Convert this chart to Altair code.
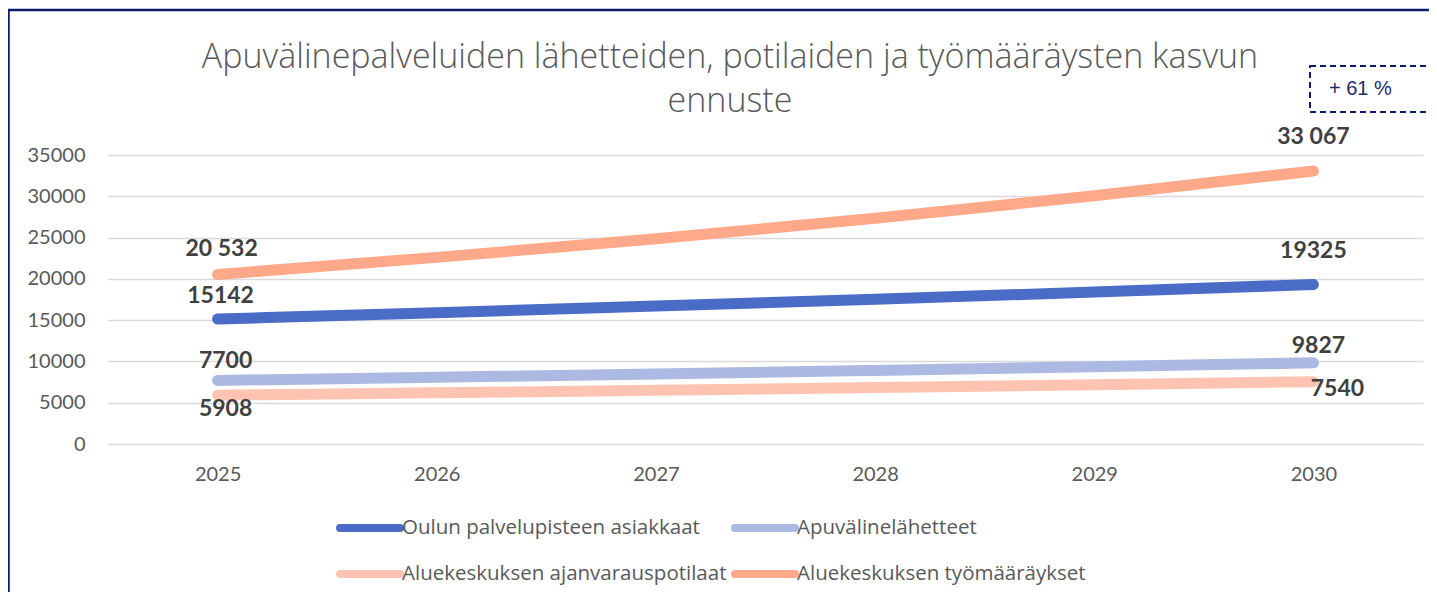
import altair as alt
import pandas as pd

# ---------------- data ----------------
years = ["2025", "2026", "2027", "2028", "2029", "2030"]
series_names = [
    "Oulun palvelupisteen asiakkaat",
    "Apuvälinelähetteet",
    "Aluekeskuksen ajanvarauspotilaat",
    "Aluekeskuksen työmääräykset",
]
oulu = [15142, 15900, 16700, 17530, 18400, 19325]
lahetteet = [7700, 8085, 8490, 8910, 9360, 9827]
ajanvaraus = [5908, 6200, 6510, 6840, 7180, 7540]
tyomaaraykset = [20532, 22600, 24850, 27330, 30060, 33067]
series_values = [oulu, lahetteet, ajanvaraus, tyomaaraykset]

first_labels = ["15142", "7700", "5908", "20 532"]
last_labels = ["19325", "9827", "7540", "33 067"]

title_lines = ["Apuvälinepalveluiden lähetteiden, potilaiden ja työmääräysten kasvun", "ennuste"]
growth_note = "+ 61 %"

y_ticks = [0, 5000, 10000, 15000, 20000, 25000, 30000, 35000]

# ---------------- styles ----------------
colors = ["#4A6BC6", "#ABB9E3", "#FFC4B1", "#FFA98A"]
FONT = "Lato"
GREY = "#595959"
LABEL = "#404040"
NAVY = "#0C1C6B"

W, H = 1315, 289
PAD_L, PAD_T = 100, 147

rows = []
for name, vals in zip(series_names, series_values):
    for y, v in zip(years, vals):
        rows.append({"series": name, "year": y, "value": v})
df = pd.DataFrame(rows)

xs = alt.Scale(domain=years, type="point", padding=0.5)
ys = alt.Scale(domain=[0, 35000], nice=False)
cs = alt.Scale(domain=series_names, range=colors)

x_axis = alt.Axis(title=None, labelAngle=0, domain=False, ticks=False, grid=False,
                  labelFontSize=20, labelColor=GREY, labelFont=FONT, labelPadding=20)
y_axis = alt.Axis(title=None, values=y_ticks, format="d", domain=False, ticks=False,
                  labelFontSize=20, labelColor=GREY, labelFont=FONT, labelPadding=23,
                  gridColor="#D9D9D9", gridWidth=1.5)

lines = alt.Chart(df).mark_line(strokeWidth=11, strokeCap="round", interpolate="monotone").encode(
    x=alt.X("year:O", scale=xs, sort=years, axis=x_axis),
    y=alt.Y("value:Q", scale=ys, axis=y_axis),
    color=alt.Color("series:N", scale=cs, legend=None),
    detail="series:N",
)

layers = [lines]

# data labels (offsets in pixels: dx, dy)
first_off = [(3, -23), (8, -19), (8, 14), (4, -25)]
last_off = [(0, -33), (5, -17), (24, 7), (0, -34)]
for i, name in enumerate(series_names):
    for yr, val, txt, (dx, dy) in [
        (years[0], series_values[i][0], first_labels[i], first_off[i]),
        (years[-1], series_values[i][-1], last_labels[i], last_off[i]),
    ]:
        d = pd.DataFrame({"year": [yr], "value": [val], "label": [txt]})
        layers.append(
            alt.Chart(d).mark_text(font=FONT, fontSize=23, fontWeight="bold", color=LABEL,
                                   align="center", baseline="middle", dx=dx, dy=dy).encode(
                x=alt.X("year:O", scale=xs, sort=years, axis=x_axis),
                y=alt.Y("value:Q", scale=ys, axis=y_axis),
                text="label:N",
            )
        )

one = pd.DataFrame({"k": [0]})

# legend (manual, two columns)
for i, (name, col) in enumerate(zip(series_names, colors)):
    c, r = i % 2, i // 2
    sx = 340 + c * 395 - 108
    sy = 528 + r * 46 - 155
    layers.append(alt.Chart(one).mark_rule(strokeWidth=8, strokeCap="round", color=col).encode(
        x=alt.value(sx), x2=alt.value(sx + 60), y=alt.value(sy)))
    layers.append(alt.Chart(one).mark_text(text=name, font="Open Sans", fontSize=20.5, color=GREY,
                                           align="left", baseline="middle").encode(
        x=alt.value(sx + 62), y=alt.value(sy)))

# title
for j, t in enumerate(title_lines):
    layers.append(alt.Chart(one).mark_text(text=t, font="Open Sans", fontSize=34, fontWeight=300,
                                           color=GREY, align="center", baseline="middle").encode(
        x=alt.value(730 - 108), y=alt.value(58 + j * 44 - 155)))

# dashed note box
layers.append(alt.Chart(one).mark_rect(fill="transparent", stroke=NAVY, strokeWidth=2,
                                       strokeDash=[6, 4]).encode(
    x=alt.value(1310 - 108), x2=alt.value(1460 - 108),
    y=alt.value(66 - 155), y2=alt.value(112 - 155)))
layers.append(alt.Chart(one).mark_text(text=growth_note, font="Liberation Sans", fontSize=20,
                                       color="#1F2A6B", align="left", baseline="middle").encode(
    x=alt.value(1329 - 108), y=alt.value(89 - 155)))

# outer frame (top and left edges)
layers.append(alt.Chart(one).mark_rule(strokeWidth=2.5, color=NAVY).encode(
    x=alt.value(-100), x2=alt.value(1500), y=alt.value(10 - 155)))
layers.append(alt.Chart(one).mark_rule(strokeWidth=2.5, color=NAVY).encode(
    x=alt.value(-99.5), y=alt.value(10 - 155), y2=alt.value(700)))

chart = alt.layer(*layers).properties(
    width=W, height=H,
    autosize=alt.AutoSizeParams(type="none"),
    padding={"left": PAD_L, "top": PAD_T, "right": 6, "bottom": 148},
    background="white",
).configure_view(stroke=None)

chart.save("out.html", embed_options={"renderer": "svg", "actions": False})
